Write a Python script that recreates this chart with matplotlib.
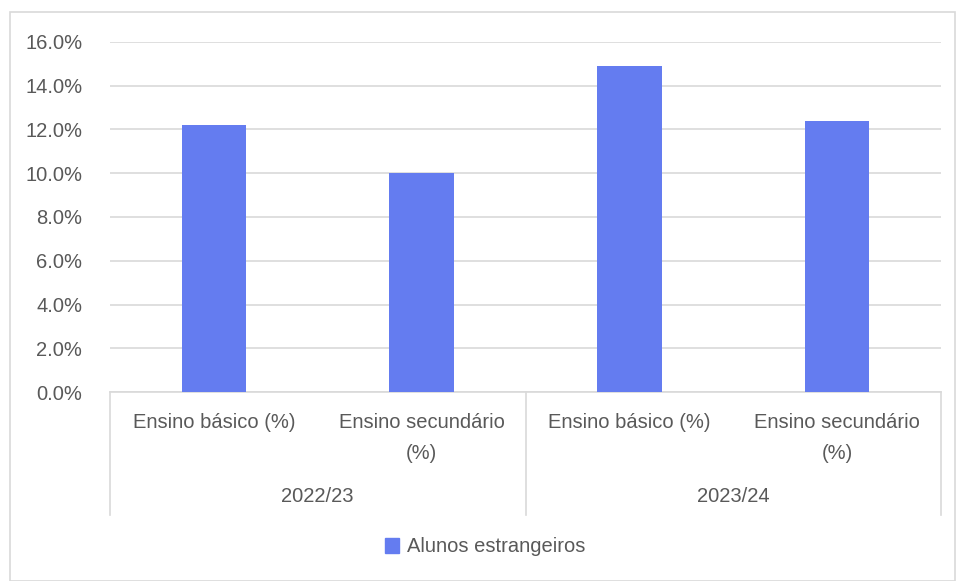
import matplotlib
matplotlib.use("Agg")
import matplotlib.pyplot as plt
from matplotlib.patches import Patch, Rectangle
from matplotlib.ticker import FuncFormatter
from matplotlib import font_manager

names = {f.name for f in font_manager.fontManager.ttflist}
fam = ['Liberation Sans Narrow', 'Liberation Sans', 'DejaVu Sans'] if 'Liberation Sans Narrow' in names else ['Liberation Sans', 'DejaVu Sans']
plt.rcParams['font.family'] = fam

categories = ["Ensino básico (%)", "Ensino secundário\n(%)", "Ensino básico (%)", "Ensino secundário\n(%)"]
groups = ["2022/23", "2023/24"]
values = [12.2, 10.0, 14.9, 12.4]
series_name = "Alunos estrangeiros"
yticks = [0, 2, 4, 6, 8, 10, 12, 14, 16]

W, H = 957, 581
fig = plt.figure(figsize=(W / 100, H / 100), dpi=100)
txt = '#595959'
grid = '#d9d9d9'
bar_c = '#647cf0'

# outer border
fig.patches.append(Rectangle((10 / W, 0), (W - 12) / W, (H - 12) / H, transform=fig.transFigure,
                             fill=False, edgecolor='#d9d9d9', linewidth=1.2))

x0, x1, ytop, ybot = 110, 941, 42, 392
ax = fig.add_axes([x0 / W, 1 - ybot / H, (x1 - x0) / W, (ybot - ytop) / H])
xs = list(range(len(values)))
ax.bar(xs, values, width=0.31, color=bar_c, zorder=3)
ax.set_xlim(-0.5, len(values) - 0.5)
ax.set_ylim(0, 16)
ax.set_yticks(yticks)
ax.yaxis.set_major_formatter(FuncFormatter(lambda v, p: f"{v:.1f}%"))
ax.grid(axis='y', color=grid, linewidth=1.2, zorder=0)
for s in ['top', 'right', 'left']:
    ax.spines[s].set_visible(False)
ax.spines['bottom'].set_color(grid)
ax.spines['bottom'].set_linewidth(1.2)
ax.tick_params(axis='y', length=0, pad=20, labelsize=14.5, labelcolor=txt)
ax.set_xticks(xs)
ax.set_xticklabels(categories)
ax.tick_params(axis='x', length=0, pad=15, labelsize=14.5, labelcolor=txt)
for lab in ax.get_xticklabels():
    lab.set_linespacing(1.78)

# group separators and labels
sep_bottom = -(515 - ybot) / (ybot - ytop)
for xv in [-0.5, 1.5, 3.5]:
    ax.plot([xv, xv], [0, sep_bottom], transform=ax.get_xaxis_transform(), color=grid,
            linewidth=1.2, clip_on=False)
glab_y = -(496 - ybot) / (ybot - ytop)
for i, g in enumerate(groups):
    ax.text(2 * i + 0.5, glab_y, g, transform=ax.get_xaxis_transform(), ha='center', va='center',
            fontsize=14.5, color=txt)

fig.legend(handles=[Patch(color=bar_c, label=series_name)], loc='center',
           bbox_to_anchor=(485 / W, 1 - 547 / H), frameon=False, fontsize=14.5,
           labelcolor=txt, handlelength=0.7, handleheight=0.7, handletextpad=0.4)

fig.savefig("out.png", dpi=100)
